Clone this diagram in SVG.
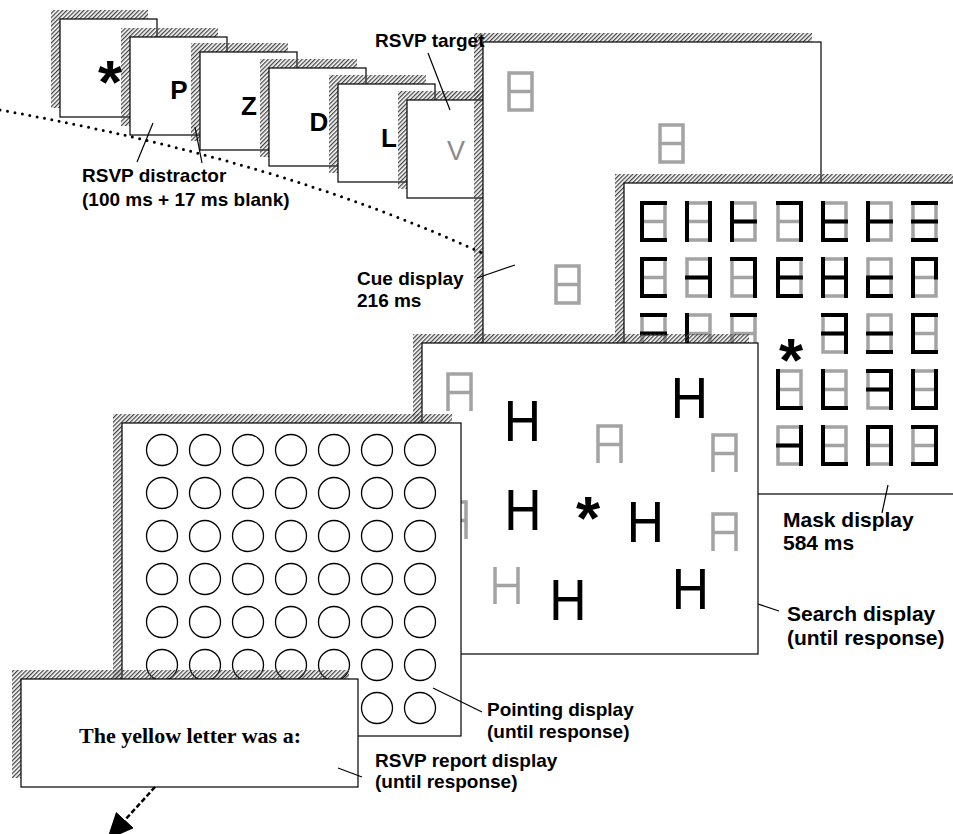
<svg xmlns="http://www.w3.org/2000/svg" xmlns:xlink="http://www.w3.org/1999/xlink" width="953" height="834" viewBox="0 0 953 834">
<style>
.sh{fill:url(#hatch)}
.fr{fill:#fff;stroke:#000;stroke-width:1.2}
.lbl{font-family:"Liberation Sans",Arial,sans-serif;font-weight:bold;font-size:19px;fill:#000}
.lbl2{font-size:21px}
.let{font-family:"Liberation Sans",Arial,sans-serif;font-weight:bold;font-size:26px;text-anchor:middle;fill:#000}
.ast{font-family:"Liberation Sans",Arial,sans-serif;font-weight:bold;font-size:62px;text-anchor:middle;fill:#000}
.hh{font-family:"Liberation Sans",Arial,sans-serif;font-size:58px;text-anchor:middle;fill:#000}
.sg{fill:none;stroke:#a3a3a3;stroke-width:3.5}
.sb{fill:none;stroke:#000;stroke-width:4;stroke-linecap:square}
.lead{fill:none;stroke:#000;stroke-width:1.2}
.circ{fill:none;stroke:#000;stroke-width:1.3}
</style>
<defs>
<pattern id="hatch" width="3" height="3" patternUnits="userSpaceOnUse" patternTransform="rotate(45)"><rect width="1.3" height="3" fill="#444"/></pattern>
<path id="eight" d="M2,2H25V39H2ZM2,20.5H25"/>
<path id="ashape" d="M2,39V2H25V39M2,20.5H25"/>
<path id="hshape" d="M2,2V39M25,2V39M2,20.5H25"/>
<marker id="ah" markerUnits="userSpaceOnUse" markerWidth="27" markerHeight="24" viewBox="0 0 27 24" refX="0" refY="12" orient="auto"><path d="M0,0L27,12L0,24Z" fill="#000"/></marker>
</defs>

<g id="rsvp1"><rect class="sh" x="51" y="10" width="97" height="98"/><rect class="fr" x="60" y="19" width="97" height="98"/><text class="ast" x="110" y="103">*</text></g>
<g id="rsvp2"><rect class="sh" x="121" y="28" width="97" height="98"/><rect class="fr" x="130" y="37" width="97" height="98"/><text class="let" x="179" y="99">P</text></g>
<g id="rsvp3"><rect class="sh" x="191" y="43" width="97" height="98"/><rect class="fr" x="200" y="52" width="97" height="98"/><text class="let" x="249" y="115">Z</text></g>
<g id="rsvp4"><rect class="sh" x="260" y="59" width="97" height="98"/><rect class="fr" x="269" y="68" width="97" height="98"/><text class="let" x="319" y="131">D</text></g>
<g id="rsvp5"><rect class="sh" x="329" y="75" width="97" height="98"/><rect class="fr" x="338" y="84" width="97" height="98"/><text class="let" x="389" y="147">L</text></g>
<g id="rsvp6"><rect class="sh" x="398" y="91" width="97" height="98"/><rect class="fr" x="407" y="100" width="97" height="98"/><text class="let" x="456" y="160" style="font-weight:normal;font-size:27px;fill:#8a8a8a">V</text></g>

<g id="cue">
<rect class="sh" x="474" y="33" width="338" height="311"/><rect class="fr" x="483" y="42" width="338" height="311"/>
<use href="#eight" class="sg" x="507" y="71"/>
<use href="#eight" class="sg" x="658" y="123"/>
<use href="#eight" class="sg" x="554" y="264"/>
</g>

<g id="mask">
<rect class="sh" x="615" y="174" width="340" height="311"/><rect class="fr" x="624" y="183" width="340" height="311"/>
<g transform="translate(640,201)"><use href="#eight" class="sg"/><path class="sb" d="M25,2H2V39H25"/></g>
<g transform="translate(685,201)"><use href="#eight" class="sg"/><path class="sb" d="M2,2V39M25,2V39"/></g>
<g transform="translate(730,201)"><use href="#eight" class="sg"/><path class="sb" d="M2,2V39M2,20.5H25"/></g>
<g transform="translate(776,201)"><use href="#eight" class="sg"/><path class="sb" d="M2,2H25V39"/></g>
<g transform="translate(821,201)"><use href="#eight" class="sg"/><path class="sb" d="M2,2V39H25M2,20.5H25"/></g>
<g transform="translate(866,201)"><use href="#eight" class="sg"/><path class="sb" d="M2,2V39M2,20.5H25"/></g>
<g transform="translate(911,201)"><use href="#eight" class="sg"/><path class="sb" d="M2,2H25M2,20.5H25M2,39H25"/></g>
<g transform="translate(640,257)"><use href="#eight" class="sg"/><path class="sb" d="M25,2H2V39H25"/></g>
<g transform="translate(685,257)"><use href="#eight" class="sg"/><path class="sb" d="M2,20.5H25M25,2V39"/></g>
<g transform="translate(730,257)"><use href="#eight" class="sg"/><path class="sb" d="M2,2H25V39"/></g>
<g transform="translate(776,257)"><use href="#eight" class="sg"/><path class="sb" d="M25,2H2V39H25M2,20.5H25"/></g>
<g transform="translate(821,257)"><use href="#eight" class="sg"/><path class="sb" d="M2,2V39M25,2V39M2,20.5H25"/></g>
<g transform="translate(866,257)"><use href="#eight" class="sg"/><path class="sb" d="M2,20.5H25M2,20.5V39H25"/></g>
<g transform="translate(911,257)"><use href="#eight" class="sg"/><path class="sb" d="M2,39V2H25V20.5"/></g>
<g transform="translate(640,313)"><use href="#eight" class="sg"/><path class="sb" d="M2,2H25M2,20.5H25"/></g>
<g transform="translate(685,313)"><use href="#eight" class="sg"/><path class="sb" d="M2,2V39"/></g>
<g transform="translate(730,313)"><use href="#eight" class="sg"/><path class="sb" d="M2,2H25"/></g>
<g transform="translate(821,313)"><use href="#eight" class="sg"/><path class="sb" d="M2,2H25V39M2,20.5H25"/></g>
<g transform="translate(866,313)"><use href="#eight" class="sg"/><path class="sb" d="M2,20.5H25M2,39H25"/></g>
<g transform="translate(911,313)"><use href="#eight" class="sg"/><path class="sb" d="M25,2H2V39H25"/></g>
<g transform="translate(776,369)"><use href="#eight" class="sg"/><path class="sb" d="M2,2V39H25"/></g>
<g transform="translate(821,369)"><use href="#eight" class="sg"/><path class="sb" d="M2,2V39H25"/></g>
<g transform="translate(866,369)"><use href="#eight" class="sg"/><path class="sb" d="M2,2H25V39M2,20.5H25"/></g>
<g transform="translate(911,369)"><use href="#eight" class="sg"/><path class="sb" d="M2,2V39H25V2"/></g>
<g transform="translate(776,425)"><use href="#eight" class="sg"/><path class="sb" d="M2,20.5H25M25,2V39"/></g>
<g transform="translate(821,425)"><use href="#eight" class="sg"/><path class="sb" d="M2,2V39H25"/></g>
<g transform="translate(866,425)"><use href="#eight" class="sg"/><path class="sb" d="M2,39V2H25V39"/></g>
<g transform="translate(911,425)"><use href="#eight" class="sg"/><path class="sb" d="M2,2H25V39H2"/></g>
<text class="ast" x="791" y="381">*</text>
</g>

<g id="search">
<rect class="sh" x="413" y="334" width="336" height="311"/><rect class="fr" x="422" y="343" width="336" height="311"/>
<use href="#ashape" class="sg" x="446" y="372"/>
<use href="#ashape" class="sg" x="596" y="424"/>
<use href="#ashape" class="sg" x="711" y="433"/>
<use href="#ashape" class="sg" x="711" y="512"/>
<use href="#ashape" class="sg" x="441" y="500"/>
<use href="#hshape" class="sg" x="493" y="565"/>
<text class="hh" transform="translate(522.5,441) scale(0.89,1)">H</text>
<text class="hh" transform="translate(689.5,418) scale(0.89,1)">H</text>
<text class="hh" transform="translate(523,530) scale(0.89,1)">H</text>
<text class="hh" transform="translate(645.5,542) scale(0.89,1)">H</text>
<text class="hh" transform="translate(568,620) scale(0.89,1)">H</text>
<text class="hh" transform="translate(690.5,609) scale(0.89,1)">H</text>
<text class="ast" x="588" y="539">*</text>
</g>

<g id="pointing">
<rect class="sh" x="113" y="414" width="339" height="313"/><rect class="fr" x="122" y="423" width="339" height="313"/>
<g class="circ">
<circle cx="162" cy="450" r="15.5"/><circle cx="205" cy="450" r="15.5"/><circle cx="248" cy="450" r="15.5"/><circle cx="291" cy="450" r="15.5"/><circle cx="334" cy="450" r="15.5"/><circle cx="377" cy="450" r="15.5"/><circle cx="420" cy="450" r="15.5"/>
<circle cx="162" cy="493" r="15.5"/><circle cx="205" cy="493" r="15.5"/><circle cx="248" cy="493" r="15.5"/><circle cx="291" cy="493" r="15.5"/><circle cx="334" cy="493" r="15.5"/><circle cx="377" cy="493" r="15.5"/><circle cx="420" cy="493" r="15.5"/>
<circle cx="162" cy="536" r="15.5"/><circle cx="205" cy="536" r="15.5"/><circle cx="248" cy="536" r="15.5"/><circle cx="291" cy="536" r="15.5"/><circle cx="334" cy="536" r="15.5"/><circle cx="377" cy="536" r="15.5"/><circle cx="420" cy="536" r="15.5"/>
<circle cx="162" cy="579" r="15.5"/><circle cx="205" cy="579" r="15.5"/><circle cx="248" cy="579" r="15.5"/><circle cx="291" cy="579" r="15.5"/><circle cx="334" cy="579" r="15.5"/><circle cx="377" cy="579" r="15.5"/><circle cx="420" cy="579" r="15.5"/>
<circle cx="162" cy="622" r="15.5"/><circle cx="205" cy="622" r="15.5"/><circle cx="248" cy="622" r="15.5"/><circle cx="291" cy="622" r="15.5"/><circle cx="334" cy="622" r="15.5"/><circle cx="377" cy="622" r="15.5"/><circle cx="420" cy="622" r="15.5"/>
<circle cx="162" cy="665" r="15.5"/><circle cx="205" cy="665" r="15.5"/><circle cx="248" cy="665" r="15.5"/><circle cx="291" cy="665" r="15.5"/><circle cx="334" cy="665" r="15.5"/><circle cx="377" cy="665" r="15.5"/><circle cx="420" cy="665" r="15.5"/>
<circle cx="377" cy="708" r="15.5"/><circle cx="420" cy="708" r="15.5"/>
</g>
</g>

<g id="report">
<rect class="sh" x="12" y="670" width="337" height="108"/><rect class="fr" x="21" y="679" width="337" height="108"/>
<text x="190" y="743" text-anchor="middle" style="font-family:'Liberation Serif','Times New Roman',serif;font-weight:bold;font-size:22px">The yellow letter was a:</text>
</g>

<g id="connectors">
<path d="M0,110Q280,160 482,253" fill="none" stroke="#000" stroke-width="3" stroke-linecap="round" stroke-dasharray="0 7.5"/>
<path class="lead" d="M428,53L450,110"/>
<path class="lead" d="M137,162L153,123"/>
<path class="lead" d="M202,163L195,127"/>
<path class="lead" d="M477,278L515,265"/>
<path class="lead" d="M888,485L882,513"/>
<path class="lead" d="M758,604L779,611"/>
<path class="lead" d="M433,688L482,712"/>
<path class="lead" d="M338,768L362,777"/>
<path d="M155,787L125,820" fill="none" stroke="#000" stroke-width="2.5" stroke-dasharray="5 2.5" marker-end="url(#ah)"/>
</g>

<g id="labels" class="lbl">
<text x="375" y="47">RSVP target</text>
<text x="82" y="182">RSVP distractor</text>
<text x="82" y="206">(100 ms + 17 ms blank)</text>
<text x="357" y="285">Cue display</text>
<text x="357" y="307">216 ms</text>
<text class="lbl2" x="783" y="527">Mask display</text>
<text class="lbl2" x="783" y="550">584 ms</text>
<text class="lbl2" x="787" y="621">Search display</text>
<text class="lbl2" x="787" y="645">(until response)</text>
<text x="487" y="716">Pointing display</text>
<text x="487" y="738">(until response)</text>
<text x="375" y="767">RSVP report display</text>
<text x="375" y="788">(until response)</text>
</g>
</svg>
